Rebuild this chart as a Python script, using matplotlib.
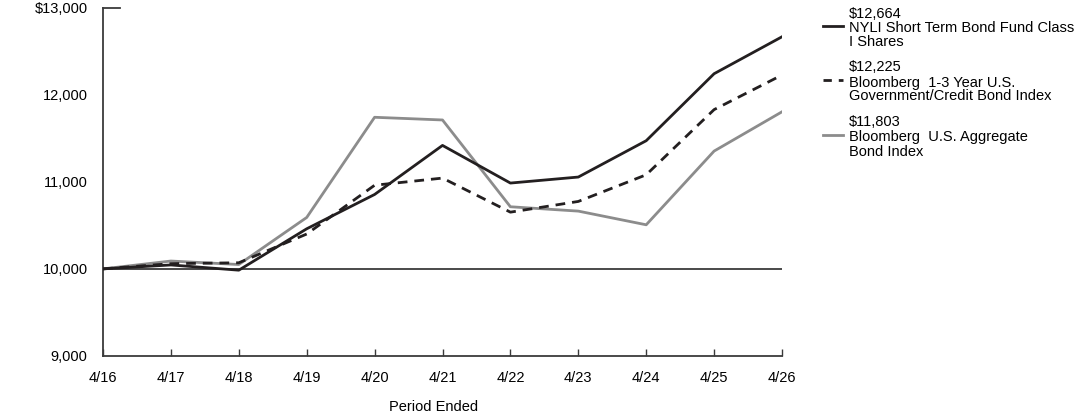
import matplotlib
matplotlib.use("Agg")
import matplotlib.pyplot as plt
from matplotlib.lines import Line2D

plt.rcParams['font.family'] = ['Liberation Sans', 'DejaVu Sans']

periods = ["4/16", "4/17", "4/18", "4/19", "4/20", "4/21", "4/22", "4/23", "4/24", "4/25", "4/26"]
fund = [10000, 10045, 9985, 10460, 10854, 11417, 10985, 11054, 11471, 12240, 12664]
gov_credit = [10000, 10060, 10070, 10400, 10960, 11042, 10651, 10774, 11080, 11828, 12225]
aggregate = [10000, 10090, 10050, 10590, 11740, 11709, 10713, 10663, 10506, 11352, 11803]

legend_lines = [
    ["$12,664", "NYLI Short Term Bond Fund Class", "I Shares"],
    ["$12,225", "Bloomberg  1-3 Year U.S.", "Government/Credit Bond Index"],
    ["$11,803", "Bloomberg  U.S. Aggregate", "Bond Index"],
]

W, H = 1092, 417
fig = plt.figure(figsize=(W / 100, H / 100), dpi=100)
ax = fig.add_axes([103 / W, 1 - 356 / H, (782 - 103) / W, (356 - 7.5) / H])

x = list(range(len(periods)))
c_black = "#231f20"
c_gray = "#8c8c8c"
FS = 10.5
ax.axhline(10000, color="#3a3a3a", lw=1.3, zorder=1)
ax.plot(x, aggregate, color=c_gray, lw=2, zorder=2)
ax.plot(x, gov_credit, color=c_black, lw=2, ls=(0, (3.5, 2.5)), zorder=3)
ax.plot(x, fund, color=c_black, lw=2, zorder=4)

ax.set_xlim(0, 10)
ax.set_ylim(9000, 13000)
ax.set_xticks(x)
ax.set_xticklabels(periods)
ax.set_yticks([9000, 10000, 11000, 12000, 13000])
ax.set_yticklabels(["9,000", "10,000", "11,000", "12,000", "$13,000"])
ax.tick_params(axis='x', direction='in', length=5, width=1, color="#3a3a3a",
               labelsize=FS, pad=10.5)
ax.tick_params(axis='y', length=0, labelsize=FS, pad=11)
for s in ["top", "right"]:
    ax.spines[s].set_visible(False)
for s in ["left", "bottom"]:
    ax.spines[s].set_color("#3a3a3a")
    ax.spines[s].set_linewidth(1.3)
ax.plot([0, 0.025], [1, 1], transform=ax.transAxes, color="#3a3a3a", lw=1.3, clip_on=False)

fig.text(434 / W, 1 - 407 / H, "Period Ended", ha="center", va="center", fontsize=FS)

# legend
line_y = [[12.3, 26.7, 40.7], [65.5, 81, 95], [120, 136, 150.5]]
styles = [dict(color=c_black, ls="-"), dict(color=c_black, ls=(0, (3, 2.5))), dict(color=c_gray, ls="-")]
for ys, texts, st in zip(line_y, legend_lines, styles):
    for yy, tx in zip(ys, texts):
        fig.text(849 / W, 1 - yy / H, tx, ha="left", va="center_baseline", fontsize=FS)
    ly = 1 - (ys[1] - 1) / H
    fig.add_artist(Line2D([823 / W, 843 / W], [ly, ly], lw=2, **st, transform=fig.transFigure))

fig.savefig("out.png", dpi=100)
